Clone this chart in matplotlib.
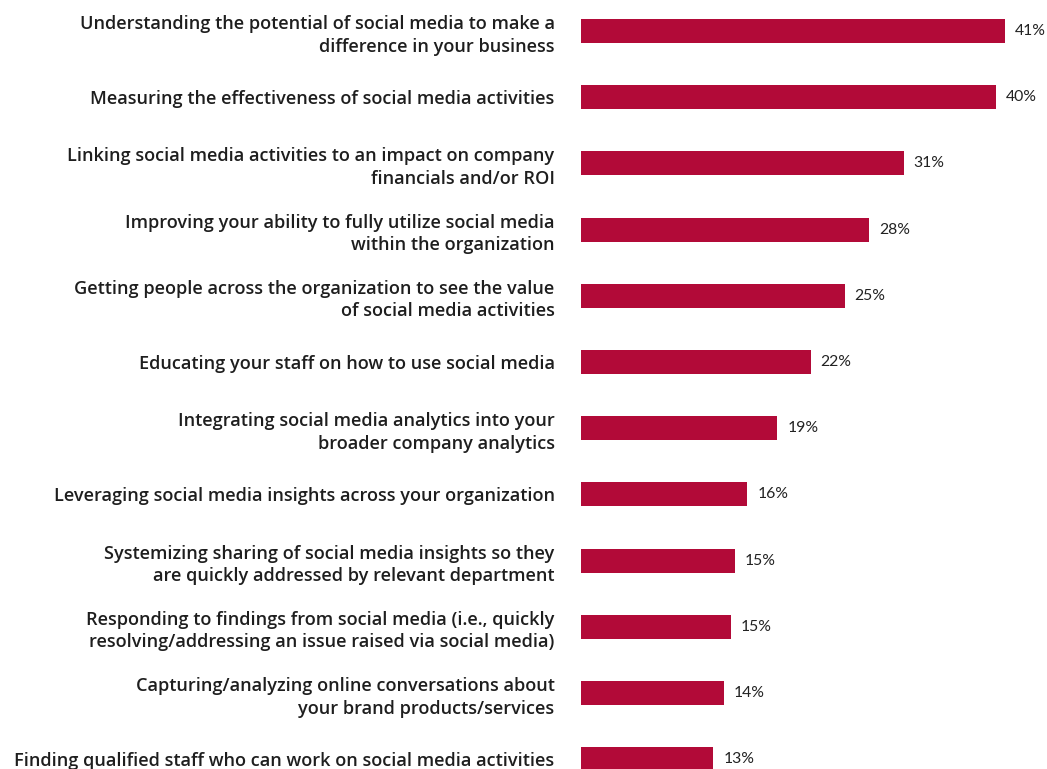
import numpy as np
import matplotlib
matplotlib.use("Agg")
import matplotlib.pyplot as plt

categories = [
    "Understanding the potential of social media to make a\ndifference in your business",
    "Measuring the effectiveness of social media activities",
    "Linking social media activities to an impact on company\nfinancials and/or ROI",
    "Improving your ability to fully utilize social media\nwithin the organization",
    "Getting people across the organization to see the value\nof social media activities",
    "Educating your staff on how to use social media",
    "Integrating social media analytics into your\nbroader company analytics",
    "Leveraging social media insights across your organization",
    "Systemizing sharing of social media insights so they\nare quickly addressed by relevant department",
    "Responding to findings from social media (i.e., quickly\nresolving/addressing an issue raised via social media)",
    "Capturing/analyzing online conversations about\nyour brand products/services",
    "Finding qualified staff who can work on social media activities",
]
# bar lengths as measured, labels as printed
values = [41.0, 40.1, 31.2, 27.9, 25.5, 22.2, 19.0, 16.1, 14.9, 14.5, 13.8, 12.8]
labels = ["41%", "40%", "31%", "28%", "25%", "22%", "19%", "16%", "15%", "15%", "14%", "13%"]

W, H = 1047, 769
fig = plt.figure(figsize=(W / 100, H / 100), dpi=100)
x0 = 581
ax = fig.add_axes([x0 / W, 0, 1 - x0 / W, 1])

px_per_unit = 10.34
row = 66.2
y = np.arange(len(categories))
ax.barh(y, values, height=24 / row, color="#b20a38", zorder=2)

ax.set_xlim(0, (W - x0) / px_per_unit)
ax.set_ylim((H - 31) / row, -31 / row)

for yi, v, lab in zip(y, values, labels):
    ax.text(v + 10 / px_per_unit, yi, lab, va="center", ha="left",
            fontsize=11.3, color="#222222", family="Lato")

ax.set_yticks(y)
ax.set_yticklabels(categories, fontsize=13.1, color="#1e1e1e",
                   family="Open Sans", fontweight="semibold", linespacing=1.33)
ax.tick_params(axis="y", length=0, pad=19)
ax.set_xticks([])
for s in ax.spines.values():
    s.set_visible(False)

fig.savefig("out.png", dpi=100)
